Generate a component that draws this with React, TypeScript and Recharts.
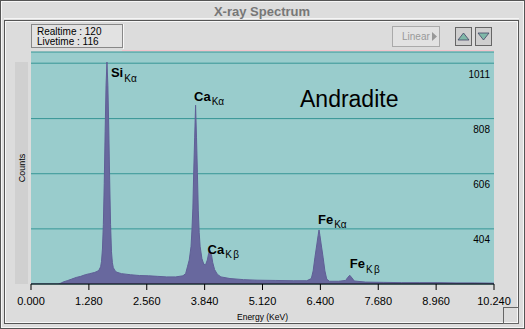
import { AreaChart, Area, XAxis, YAxis, CartesianGrid, ReferenceDot } from 'recharts';

// spectrum channels (keV) and counts
const energyKeV = [
  0.0, 0.6, 0.66, 0.72, 0.8, 0.9, 1.0, 1.1, 1.2, 1.3, 1.4, 1.46, 1.5, 1.54, 1.56, 1.58, 1.6, 1.62, 1.64, 1.66,
  1.68, 1.7, 1.72, 1.74, 1.76, 1.78, 1.8, 1.82, 1.86, 1.9, 2.0, 2.2, 2.4, 2.6, 2.8, 3.0, 3.2, 3.36, 3.42, 3.46,
  3.5, 3.54, 3.56, 3.58, 3.6, 3.62, 3.64, 3.66, 3.68, 3.7, 3.72, 3.74, 3.78, 3.82, 3.86, 3.9, 3.93, 3.96, 3.99, 4.02,
  4.06, 4.12, 4.2, 4.4, 4.7, 5.0, 5.4, 5.8, 6.1, 6.2, 6.24, 6.28, 6.32, 6.35, 6.37, 6.39, 6.42, 6.46, 6.5, 6.54,
  6.6, 6.8, 6.96, 7.0, 7.05, 7.1, 7.15, 7.4, 7.8, 8.2, 8.6, 9.0, 9.4, 9.8, 10.24,
];
const counts = [
  202, 202, 205, 210, 214, 220, 226, 230, 236, 240, 244, 248, 252, 265, 285, 330, 420, 570, 760, 930,
  1015, 930, 770, 580, 420, 320, 280, 262, 250, 245, 240, 236, 233, 232, 230, 228, 228, 232, 240, 265,
  290, 340, 400, 480, 620, 740, 857, 740, 610, 470, 390, 340, 295, 275, 272, 290, 315, 325, 310, 280,
  255, 238, 228, 222, 218, 216, 215, 214, 214, 222, 250, 300, 345, 380, 400, 380, 345, 300, 250, 220,
  212, 212, 215, 225, 234, 224, 213, 209, 208, 207, 207, 207, 206, 206, 205,
];

const xTicks = [0, 1.28, 2.56, 3.84, 5.12, 6.4, 7.68, 8.96, 10.24];
const yTicks = [404, 606, 808, 1011];

const peakElements = ['Si', 'Ca', 'Ca', 'Fe', 'Fe'];
const peakLines = ['Kα', 'Kα', 'Kβ', 'Kα', 'Kβ'];
const peakKeV = [1.68, 3.64, 3.96, 6.37, 7.05];
const peakCounts = [1015, 857, 325, 400, 234];

// label placement relative to the peak top (px)
const labelOffsets = [
  [4, 15],
  [-1.5, -4.5],
  [-2.5, 3.5],
  [-1, -6],
  [0, -7],
];

const data = energyKeV.map((e, i) => ({ e, c: counts[i] }));
const X_MAX = xTicks[xTicks.length - 1];

const FONT = '"Liberation Sans", Arial, sans-serif';

// count label drawn just under its grid line, against the right edge
function CountLabel(value: number) {
  return (props: any) => (
    <text x={props.cx - 4} y={props.cy + 14.5} textAnchor="end" fontSize={10} fill="#000" fontFamily={FONT}>
      {value}
    </text>
  );
}

// tick lines only, no text
function NoLabel() {
  return <g />;
}

function PeakLabel(idx: number) {
  return (props: any) => {
    const { cx, cy } = props;
    const [dx, dy] = labelOffsets[idx];
    return (
      <text x={cx + dx} y={cy + dy} fontFamily={FONT} fill="#000">
        <tspan fontSize={13} fontWeight="bold">{peakElements[idx]}</tspan>
        <tspan fontSize={10} dx={1} dy={4.5} letterSpacing={peakLines[idx] === 'Kβ' ? 1.5 : 0}>
          {peakLines[idx]}
        </tspan>
      </text>
    );
  };
}

export default function App() {
  return (
    <div style={{ position: 'relative', width: 525, height: 329, fontFamily: FONT }}>
      <style>{'body{margin:0}'}</style>
      <svg width={525} height={329} style={{ position: 'absolute', left: 0, top: 0 }}>
        <rect width={525} height={329} fill="#dddddd" />
        <rect x={0.5} y={0.5} width={524} height={328} fill="none" stroke="#555" />
        <rect x={1.5} y={1.5} width={522} height={326} fill="none" stroke="#f6f6f6" />
        <line x1={4} x2={519} y1={18.5} y2={18.5} stroke="#f6f6f6" />
        <rect x={4.5} y={20.5} width={514} height={303} fill="#dcdcdc" stroke="#555" />
        <rect x={5.5} y={21.5} width={512} height={301} fill="none" stroke="#f8f8f8" />
        <text x={262} y={16} textAnchor="middle" fontSize={13} fontWeight="bold" fill="#777">
          X-ray Spectrum
        </text>
        {/* Counts strip */}
        <rect x={15} y={62} width={13} height={222} fill="#d0d0d0" />
        {/* info box */}
        <rect x={31.5} y={24.5} width={91} height={23} fill="#e2e2e2" stroke="#888" />
        <line x1={123.5} x2={123.5} y1={24} y2={49} stroke="#f8f8f8" />
        <text x={37} y={35} fontSize={10} fill="#000">Realtime : 120</text>
        <text x={37} y={44.5} fontSize={10} fill="#000">Livetime : 116</text>
        {/* pink header line */}
        <line x1={122} x2={494} y1={50.5} y2={50.5} stroke="#f2c4cc" />
        {/* Linear button */}
        <rect x={392.5} y={26.5} width={47} height={20} fill="#e2e2e2" stroke="#aaa" />
        <text x={402} y={40} fontSize={10} fill="#999">Linear</text>
        <path d="M432,32 L437,36.5 L432,41 Z" fill="#999" />
        {/* arrow buttons */}
        <rect x={455.5} y={27.5} width={16} height={18} fill="#cfcfcf" stroke="#666" />
        <rect x={475.5} y={27.5} width={16} height={18} fill="#cfcfcf" stroke="#666" />
        <path d="M458,40 L463.5,33 L469,40 Z" fill="#7fb8a8" stroke="#446" strokeWidth={0.8} />
        <path d="M478,33 L483.5,40 L489,33 Z" fill="#7fb8a8" stroke="#446" strokeWidth={0.8} />
        {/* resize grip */}
        <rect x={503.5} y={307.5} width={15} height={16} fill="none" stroke="#666" />
      </svg>
      <div style={{ position: 'absolute', left: 0, top: 0 }}>
        <AreaChart width={525} height={329} data={data} margin={{ top: 52, right: 31, bottom: 0, left: 31 }}>
          <CartesianGrid
            xAxisId="bottom"
            yAxisId="right"
            vertical={false}
            fill="#99cccc"
            stroke="#379696"
            strokeWidth={1}
          />
          <XAxis
            xAxisId="bottom"
            dataKey="e"
            type="number"
            domain={[0, X_MAX]}
            ticks={xTicks}
            interval={0}
            tickFormatter={(v: number) => v.toFixed(3)}
            tick={{ fontSize: 11, fill: '#000' }}
            tickSize={6}
            tickMargin={7}
            height={45}
            axisLine={{ stroke: '#000' }}
            tickLine={{ stroke: '#000' }}
            label={{ value: 'Energy (KeV)', position: 'insideBottom', offset: 9, fontSize: 8.5, fill: '#000' }}
          />
          <XAxis
            xAxisId="top"
            orientation="top"
            dataKey="e"
            type="number"
            domain={[0, X_MAX]}
            ticks={xTicks}
            interval={0}
            tick={NoLabel}
            tickSize={4}
            height={0}
            axisLine={{ stroke: '#000' }}
            tickLine={{ stroke: '#000' }}
          />
          <YAxis
            yAxisId="left"
            domain={[202, 1052]}
            ticks={yTicks}
            interval={0}
            allowDataOverflow
            tick={NoLabel}
            tickSize={4}
            width={0}
            axisLine={{ stroke: '#000' }}
            tickLine={{ stroke: '#000' }}
          />
          <YAxis
            yAxisId="right"
            orientation="right"
            mirror
            domain={[202, 1052]}
            ticks={yTicks}
            interval={0}
            allowDataOverflow
            tick={NoLabel}
            tickSize={6}
            width={0}
            axisLine={{ stroke: '#000' }}
            tickLine={{ stroke: '#000' }}
          />
          <Area
            xAxisId="bottom"
            yAxisId="left"
            type="linear"
            dataKey="c"
            stroke="#5f5f96"
            strokeWidth={1}
            fill="#68689e"
            fillOpacity={1}
            isAnimationActive={false}
            dot={false}
            activeDot={false}
          />
          {yTicks.map((v) => (
            <ReferenceDot
              key={'t' + v}
              xAxisId="bottom"
              yAxisId="left"
              x={X_MAX}
              y={v}
              r={0}
              ifOverflow="visible"
              shape={CountLabel(v)}
            />
          ))}
          {peakKeV.map((k, i) => (
            <ReferenceDot
              key={i}
              xAxisId="bottom"
              yAxisId="left"
              x={k}
              y={peakCounts[i]}
              r={0}
              shape={PeakLabel(i)}
            />
          ))}
        </AreaChart>
      </div>
      <svg width={525} height={329} style={{ position: 'absolute', left: 0, top: 0, pointerEvents: 'none' }}>
        <text x={300} y={107} fontSize={23} fill="#000">Andradite</text>
        <text x={22} y={168} fontSize={9} fill="#000" textAnchor="middle" transform="rotate(-90 22 168)" dy={3}>
          Counts
        </text>
      </svg>
    </div>
  );
}
